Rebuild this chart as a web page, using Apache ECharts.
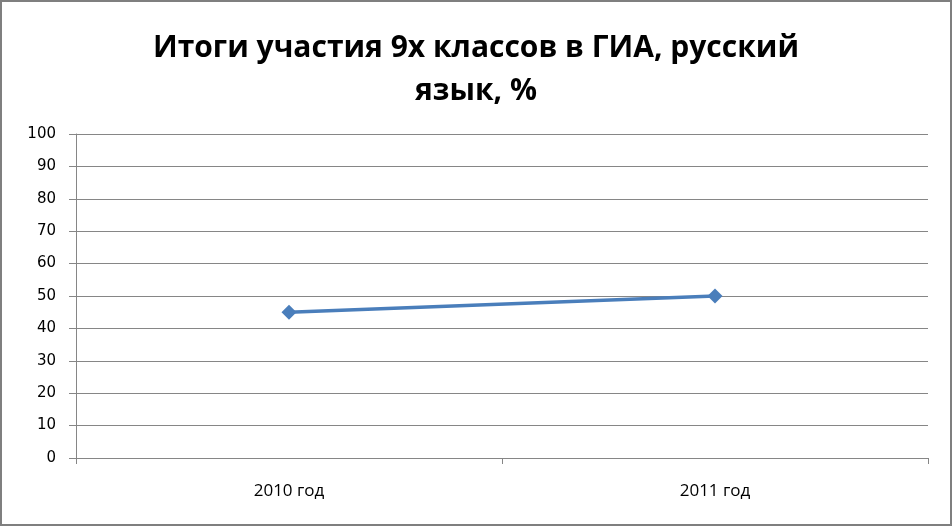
<!DOCTYPE html>
<html>
<head>
<meta charset="utf-8">
<script src="https://cdn.jsdelivr.net/npm/echarts@6/dist/echarts.min.js"></script>
<style>
html,body{margin:0;padding:0;background:#fff;}
#chart{width:952px;height:526px;}
</style>
</head>
<body>
<div id="chart"></div>
<script>
const titleText = 'Итоги участия 9х классов в ГИА, русский\nязык, %';
const categories = ['2010 год', '2011 год'];
const values = [45, 50];
const yMin = 0, yMax = 100, yStep = 10;

const chart = echarts.init(document.getElementById('chart'));
chart.setOption({
  backgroundColor: '#fff',
  animation: false,
  title: {
    text: titleText,
    left: 'center',
    top: 22,
    textStyle: {
      fontFamily: '"Open Sans", sans-serif',
      fontWeight: 'bold',
      fontSize: 30,
      lineHeight: 43,
      color: '#000'
    }
  },
  graphic: [{
    type: 'rect',
    shape: {x: 1, y: 1, width: 950, height: 524},
    style: {fill: 'none', stroke: '#7f7f7f', lineWidth: 2},
    silent: true
  }],
  grid: {left: 76, right: 24, top: 134, bottom: 68, containLabel: false},
  xAxis: {
    type: 'category',
    data: categories,
    boundaryGap: true,
    axisLine: {lineStyle: {color: '#868686', width: 1}},
    axisTick: {show: true, length: 6, lineStyle: {color: '#868686'}},
    axisLabel: {
      margin: 25,
      fontFamily: '"Open Sans", sans-serif',
      fontSize: 17,
      color: '#000'
    }
  },
  yAxis: {
    type: 'value',
    min: yMin, max: yMax, interval: yStep,
    axisLine: {show: true, lineStyle: {color: '#868686', width: 1}},
    axisTick: {show: true, length: 7, lineStyle: {color: '#868686'}},
    axisLabel: {
      margin: 20,
      fontFamily: '"DejaVu Sans", sans-serif',
      fontSize: 15,
      color: '#000'
    },
    splitLine: {show: true, lineStyle: {color: '#868686', width: 1}}
  },
  series: [{
    type: 'line',
    data: values,
    symbol: 'diamond',
    symbolSize: 15,
    lineStyle: {color: '#4a7ebb', width: 3.5},
    itemStyle: {color: '#4a7ebb'}
  }]
});
</script>
</body>
</html>
